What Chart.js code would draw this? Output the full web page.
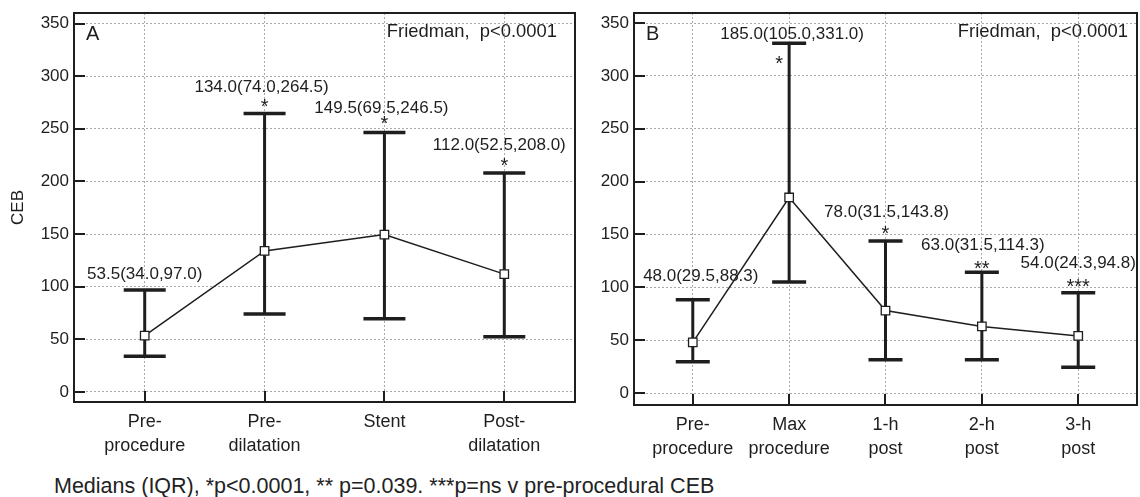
<!DOCTYPE html>
<html>
<head>
<meta charset="utf-8">
<script src="https://cdn.jsdelivr.net/npm/chart.js@4.4.1/dist/chart.umd.min.js"></script>
<style>
  body { margin: 0; background: #fff; width: 1140px; height: 497px; overflow: hidden; position: relative;
         font-family: "Liberation Sans", Arial, sans-serif; }
  #wrapA { position: absolute; left: 0; top: 0; width: 580px; height: 470px; }
  #wrapB { position: absolute; left: 580px; top: 0; width: 560px; height: 470px; }
  #note { position: absolute; left: 54px; top: 476px; font-size: 21.5px; line-height: 1; color: #222; white-space: nowrap; }
</style>
</head>
<body>
<div id="wrapA"><canvas id="chartA" width="580" height="470"></canvas></div>
<div id="wrapB"><canvas id="chartB" width="560" height="470"></canvas></div>
<div id="note">Medians (IQR), *p&lt;0.0001, ** p=0.039. ***p=ns v pre-procedural CEB</div>
<script>
// Panel A
const catsA = [['Pre-', 'procedure'], ['Pre-', 'dilatation'], ['Stent'], ['Post-', 'dilatation']]
const medA = [53.5, 134.0, 149.5, 112.0]
const q1A = [34.0, 74.0, 69.5, 52.5]
const q3A = [97.0, 264.5, 246.5, 208.0]
const starsA = ['', '*', '*', '*']

// Panel B
const catsB = [['Pre-', 'procedure'], ['Max', 'procedure'], ['1-h', 'post'], ['2-h', 'post'], ['3-h', 'post']]
const medB = [48.0, 185.0, 78.0, 63.0, 54.0]
const q1B = [29.5, 105.0, 31.5, 31.5, 24.3]
const q3B = [88.3, 331.0, 143.8, 114.3, 94.8]
const starsB = ['', '*', '*', '**', '***']

const yTicks = [0, 50, 100, 150, 200, 250, 300, 350]

const FONT = '"Liberation Sans", Arial, sans-serif'
const INK = '#1e1e1e'
Chart.defaults.font.family = FONT
Chart.defaults.color = INK

const fmt = v => v.toFixed(1)

// no automatic paddings, the frame position is set by layout.padding
const noPad = s => { s.paddingLeft = 0; s.paddingRight = 0; s.paddingTop = 0; s.paddingBottom = 0 }

// frame, inward ticks and text inside each panel
const panelDeco = {
  id: 'panelDeco',
  beforeDatasetsDraw(chart, args, o) {
    const { ctx, scales: { x, y } } = chart
    ctx.save()
    ctx.fillStyle = INK
    ctx.textAlign = 'center'
    ctx.textBaseline = 'alphabetic'
    o.med.forEach((m, i) => {
      const px = x.getPixelForValue(i)
      const cy = y.getPixelForValue(o.q3[i])
      ctx.font = '17px ' + FONT
      ctx.fillText(fmt(m) + '(' + fmt(o.q1[i]) + ',' + fmt(o.q3[i]) + ')', px + o.dx[i], cy - o.dy[i])
      if (o.stars[i]) {
        ctx.font = '20px ' + FONT
        ctx.fillText(o.stars[i], px + o.sdx[i], cy - o.sdy[i] + 11.5)
      }
    })
    ctx.restore()
  },
  afterDraw(chart, args, o) {
    const { ctx, chartArea: a, scales: { x, y } } = chart
    ctx.save()
    ctx.strokeStyle = INK
    ctx.lineWidth = 2
    ctx.beginPath()
    yTicks.forEach(v => {
      const py = Math.round(y.getPixelForValue(v))
      ctx.moveTo(a.left, py)
      ctx.lineTo(a.left + 11, py)
    })
    o.med.forEach((m, i) => {
      const px = Math.round(x.getPixelForValue(i))
      ctx.moveTo(px, a.bottom)
      ctx.lineTo(px, a.bottom - 11)
    })
    ctx.stroke()
    ctx.strokeRect(a.left, a.top, a.right - a.left, a.bottom - a.top)

    ctx.fillStyle = INK
    ctx.textBaseline = 'alphabetic'
    ctx.font = '20px ' + FONT
    ctx.textAlign = 'left'
    ctx.fillText(o.tag, a.left + 12, a.top + 27)
    ctx.font = '18.4px ' + FONT
    ctx.textAlign = 'right'
    ctx.fillText('Friedman,  p<0.0001', a.right - o.fRight, a.top + 24)
    ctx.restore()
  }
}

function buildDatasets(med, q1, q3, capR) {
  const sets = [{
    data: med.map((v, i) => ({ x: i, y: v })),
    borderColor: INK,
    borderWidth: 1.5,
    pointStyle: 'rect',
    pointRadius: 6,
    pointHoverRadius: 6,
    pointBackgroundColor: '#fff',
    pointBorderColor: INK,
    pointBorderWidth: 1.3,
    order: 0
  }]
  // one small dataset per IQR bar, the caps are 'line' points
  med.forEach((v, i) => {
    sets.push({
      data: [{ x: i, y: q1[i] }, { x: i, y: q3[i] }],
      borderColor: INK,
      borderWidth: 3,
      pointStyle: 'line',
      pointRadius: capR,
      pointHoverRadius: capR,
      pointBorderColor: INK,
      pointBorderWidth: 3.5,
      order: 1
    })
  })
  return sets
}

function makeChart(id, cats, med, q1, q3, stars, opt) {
  return new Chart(document.getElementById(id), {
    type: 'line',
    data: { datasets: buildDatasets(med, q1, q3, opt.capR) },
    options: {
      responsive: false,
      animation: false,
      devicePixelRatio: 1,
      layout: { padding: opt.padding, autoPadding: false },
      events: [],
      plugins: {
        legend: { display: false },
        tooltip: { enabled: false },
        panelDeco: {
          med, q1, q3, stars,
          dx: opt.dx, dy: opt.dy, sdx: opt.sdx, sdy: opt.sdy,
          tag: opt.tag, fRight: opt.fRight
        }
      },
      scales: {
        x: {
          type: 'linear',
          min: -opt.xPad,
          max: cats.length - 1 + opt.xPad,
          afterBuildTicks: s => { s.ticks = cats.map((c, i) => ({ value: i })) },
          afterFit: s => { s.height = 60; noPad(s) },
          ticks: {
            callback: v => cats[v],
            font: { size: 18, lineHeight: 1.32 },
            color: INK,
            padding: 8,
            maxRotation: 0,
            autoSkip: false
          },
          grid: { color: '#a8a8a8', lineWidth: 1, drawTicks: false },
          border: { display: false, dash: [2, 2] }
        },
        y: {
          min: opt.yMin,
          max: opt.yMax,
          afterBuildTicks: s => { s.ticks = yTicks.map(v => ({ value: v })) },
          afterFit: s => { s.width = opt.yW; noPad(s) },
          ticks: { font: { size: 17 }, color: INK, padding: 5 },
          grid: { color: '#a8a8a8', lineWidth: 1, drawTicks: false },
          border: { display: false, dash: [2, 2] },
          title: {
            display: opt.yTitle !== '',
            text: opt.yTitle,
            font: { size: 17 },
            color: INK,
            padding: { top: 8, bottom: 0 }
          }
        }
      }
    },
    plugins: [panelDeco]
  })
}

makeChart('chartA', catsA, medA, q1A, q3A, starsA, {
  tag: 'A', fRight: 18, yTitle: 'CEB',
  padding: { left: 0, top: 13, right: 5, bottom: 8 },
  yW: 74, xPad: 0.59, yMin: -9.5, yMax: 360, capR: 21,
  dx: [0, -3, -3, -5], dy: [10.6, 22, 19.5, 22.7],
  sdx: [0, 0, 0, 0], sdy: [0, 12, 14, 12.7]
})

makeChart('chartB', catsB, medB, q1B, q3B, starsB, {
  tag: 'B', fRight: 9, yTitle: '',
  padding: { left: 0, top: 13, right: 3, bottom: 5 },
  yW: 54, xPad: 0.61, yMin: -11.3, yMax: 359.5, capR: 17,
  dx: [8, 3, 1, 1, 0], dy: [18.6, 4, 24, 22, 24.7],
  sdx: [0, -10, 0, 0, 0], sdy: [0, -15, 13, 9, 11]
})
</script>
</body>
</html>
